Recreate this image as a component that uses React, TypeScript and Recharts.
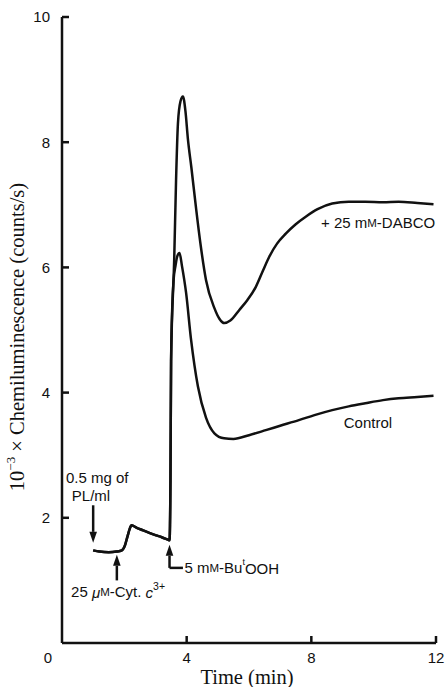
import { LineChart, Line, XAxis, YAxis, Customized } from 'recharts';

// Time (min) and 10^-3 x counts/s
const BASE_T = [1.0, 1.2, 1.5, 1.75, 1.92, 2.02, 2.1, 2.17, 2.23, 2.4, 2.6, 2.8, 3.02, 3.2, 3.4];
const BASE_V = [1.48, 1.46, 1.45, 1.46, 1.48, 1.56, 1.7, 1.82, 1.88, 1.84, 1.8, 1.76, 1.72, 1.69, 1.65];

const CONTROL_T = [3.45, 3.48, 3.5, 3.54, 3.58, 3.64, 3.7, 3.77, 3.85, 3.98, 4.14, 4.36, 4.62, 4.89, 5.2, 5.5, 6.0, 6.54, 7.0, 7.6, 8.1, 8.67, 9.2, 9.73, 10.3, 10.8, 11.4, 11.92];
const CONTROL_V = [1.64, 2.6, 4.5, 5.4, 5.8, 6.02, 6.18, 6.23, 6.02, 5.6, 4.85, 4.1, 3.6, 3.35, 3.27, 3.26, 3.32, 3.4, 3.47, 3.56, 3.64, 3.72, 3.78, 3.83, 3.88, 3.91, 3.93, 3.95];

const DABCO_T = [3.45, 3.48, 3.5, 3.6, 3.66, 3.72, 3.8, 3.88, 3.96, 4.04, 4.15, 4.3, 4.45, 4.62, 4.89, 5.05, 5.21, 5.4, 5.69, 5.95, 6.22, 6.45, 6.65, 6.9, 7.18, 7.5, 7.82, 8.2, 8.67, 9.2, 9.73, 10.3, 10.8, 11.4, 11.92];
const DABCO_V = [1.64, 2.6, 4.5, 6.12, 7.4, 8.3, 8.65, 8.73, 8.5, 8.05, 7.6, 6.95, 6.35, 5.8, 5.35, 5.18, 5.11, 5.15, 5.32, 5.48, 5.69, 5.95, 6.17, 6.38, 6.54, 6.69, 6.81, 6.93, 7.02, 7.05, 7.05, 7.04, 7.05, 7.03, 7.01];

const X_TICKS = [0, 4, 8, 12];
const Y_TICKS = [2, 4, 6, 8, 10];

const W = 445;
const H = 687;
const M = { top: 17, right: 9, left: 8, bottom: 14 };
const Y_W = 54;
const X_H = 30;
const INK = '#111';
const SANS = '"Liberation Sans", Arial, sans-serif';
const SERIF = '"Liberation Serif", "Times New Roman", serif';

const toRows = (ts: number[], vs: number[]) => ts.map((t, i) => ({ t, v: vs[i] }));
const controlData = [...toRows(BASE_T, BASE_V), ...toRows(CONTROL_T, CONTROL_V)];
const dabcoData = [...toRows(BASE_T, BASE_V), ...toRows(DABCO_T, DABCO_V)];

// plot box, used only for the annotation layer
const PX0 = M.left + Y_W;
const PX1 = W - M.right;
const PY0 = M.top;
const PY1 = H - M.bottom - X_H;
const sx = (t: number) => PX0 + (t / 12) * (PX1 - PX0);
const sy = (v: number) => PY1 - (v / 10) * (PY1 - PY0);

function XTick(props: any) {
    const { x, y, payload } = props;
    const v = payload.value;
    const axisY = y - 9;
    return (
        <g>
            {v !== 0 && <line x1={x} x2={x} y1={axisY} y2={axisY - 7} stroke={INK} strokeWidth={2.5} />}
            <text x={v === 0 ? x - 14 : x} y={y} dy="0.71em" textAnchor="middle" fontFamily={SANS} fontSize={15} fill={INK}>
                {v}
            </text>
        </g>
    );
}

function YTick(props: any) {
    const { x, y, payload } = props;
    const axisX = x + 12;
    return (
        <g>
            <line x1={axisX} x2={axisX + 7} y1={y} y2={y} stroke={INK} strokeWidth={2.5} />
            <text x={x} y={y} dy="0.36em" textAnchor="end" fontFamily={SANS} fontSize={15} fill={INK}>
                {payload.value}
            </text>
        </g>
    );
}

function Arrow({ x, yTail, yTip }: { x: number; yTail: number; yTip: number }) {
    const dir = yTip > yTail ? 1 : -1;
    const base = yTip - dir * 11;
    return (
        <g>
            <line x1={x} x2={x} y1={yTail} y2={base} stroke={INK} strokeWidth={2.5} />
            <polygon points={`${x - 3.8},${base} ${x + 3.8},${base} ${x},${yTip}`} fill={INK} />
        </g>
    );
}

function Annotations() {
    const small = { fontSize: 11.5 };
    return (
        <g fontFamily={SANS} fontSize={15} fill={INK}>
            {/* y axis title */}
            <text
                x={17}
                y={337}
                transform="rotate(-90 17 337)"
                textAnchor="middle"
                dominantBaseline="central"
                fontFamily={SERIF}
                fontSize={20.5}
            >
                10<tspan fontSize={13} dy={-7}>−3</tspan>
                <tspan dy={7}> × Chemiluminescence (counts/s)</tspan>
            </text>
            <text x={247} y={677} textAnchor="middle" dominantBaseline="central" fontFamily={SERIF} fontSize={20.5}>
                Time (min)
            </text>

            {/* 0.5 mg of PL/ml */}
            <text x={sx(1.13)} y={sy(2.64)} textAnchor="middle" dominantBaseline="central">0.5 mg of</text>
            <text x={sx(0.93)} y={sy(2.35)} textAnchor="middle" dominantBaseline="central">PL/ml</text>
            <Arrow x={sx(1.0)} yTail={sy(2.2)} yTip={sy(1.6)} />

            {/* cytochrome c */}
            <Arrow x={sx(1.76)} yTail={sy(1.0)} yTip={sy(1.41)} />
            <text x={sx(1.8)} y={sy(0.82)} textAnchor="middle" dominantBaseline="central">
                25 <tspan fontStyle="italic">μ</tspan><tspan {...small}>M</tspan>-Cyt. <tspan fontStyle="italic">c</tspan>
                <tspan fontSize={10.5} dy={-6}>3+</tspan>
            </text>

            {/* Bu'OOH */}
            <Arrow x={sx(3.45)} yTail={sy(1.2)} yTip={sy(1.57)} />
            <line x1={sx(3.45)} x2={sx(3.88)} y1={sy(1.2)} y2={sy(1.2)} stroke={INK} strokeWidth={2.5} />
            <text x={sx(3.93)} y={sy(1.2)} dominantBaseline="central">
                5 m<tspan {...small}>M</tspan>-Bu<tspan fontSize={9} dy={-6}>t</tspan><tspan dy={6}>OOH</tspan>
            </text>

            <text x={sx(8.31)} y={sy(6.71)} dominantBaseline="central">
                + 25 m<tspan {...small}>M</tspan>-DABCO
            </text>
            <text x={sx(9.04)} y={sy(3.53)} dominantBaseline="central">Control</text>
        </g>
    );
}

export default function App() {
    return (
        <div style={{ position: 'absolute', left: 0, top: 0 }}>
            <LineChart width={W} height={H} margin={M}>
                <XAxis
                    dataKey="t"
                    type="number"
                    domain={[0, 12]}
                    ticks={X_TICKS}
                    height={X_H}
                    tickLine={false}
                    tickSize={0}
                    tickMargin={9}
                    axisLine={{ stroke: INK, strokeWidth: 2.5 }}
                    tick={<XTick />}
                    allowDataOverflow
                />
                <YAxis
                    type="number"
                    domain={[0, 10]}
                    ticks={Y_TICKS}
                    width={Y_W}
                    tickLine={false}
                    tickSize={0}
                    tickMargin={12}
                    axisLine={{ stroke: INK, strokeWidth: 2.5 }}
                    tick={<YTick />}
                    allowDataOverflow
                />
                <Line data={dabcoData} dataKey="v" type="monotone" stroke={INK} strokeWidth={2.5} dot={false} isAnimationActive={false} />
                <Line data={controlData} dataKey="v" type="monotone" stroke={INK} strokeWidth={2.5} dot={false} isAnimationActive={false} />
                <Customized component={<Annotations />} />
            </LineChart>
        </div>
    );
}
